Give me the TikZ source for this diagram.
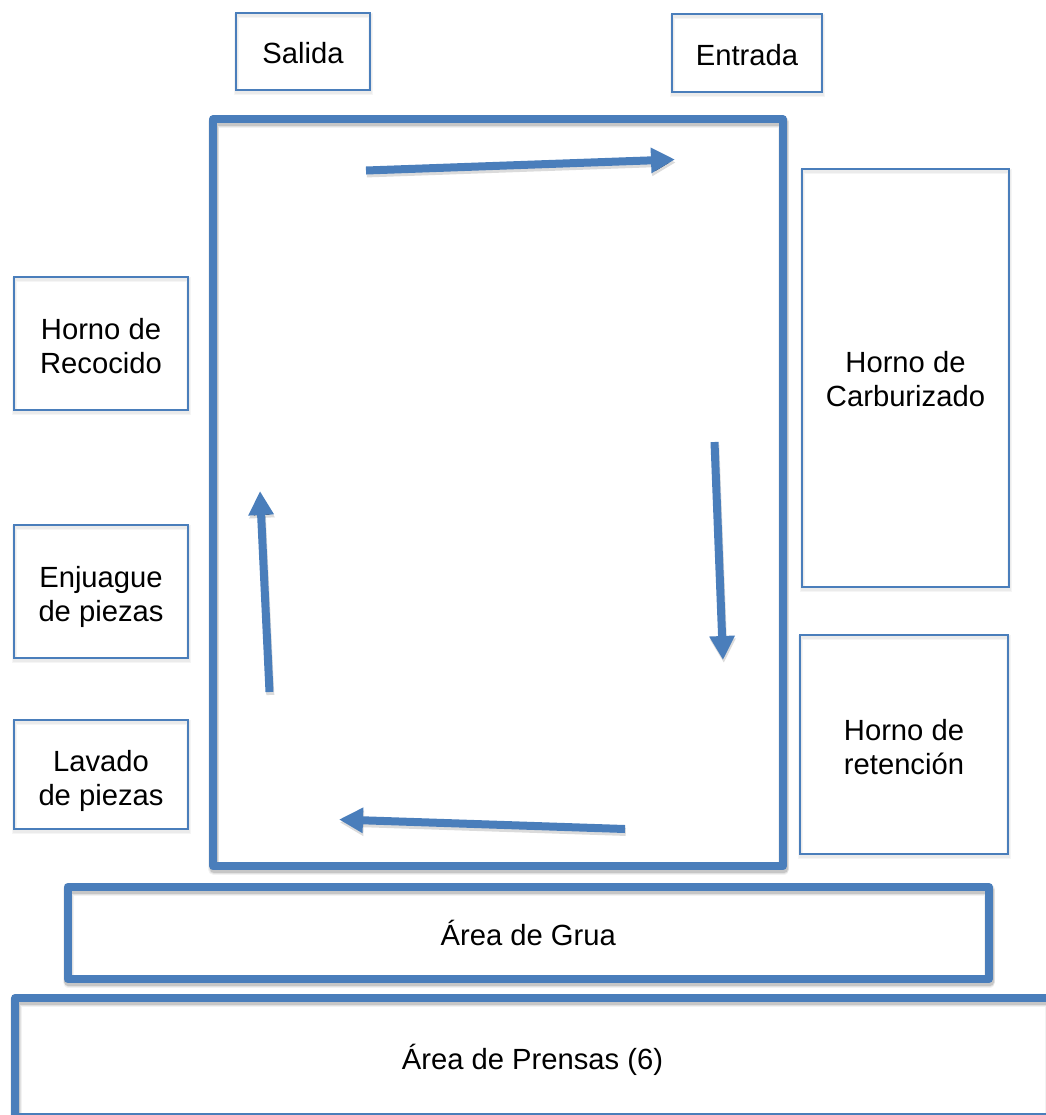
\documentclass[tikz,border=0pt]{standalone}
\usepackage{fontspec}
\setmainfont{Liberation Sans}
\usetikzlibrary{arrows.meta}
\definecolor{bluemain}{HTML}{4A7EBB}
\newcommand{\droptext}[2]{\raisebox{-#1}[\height][\depth]{\begin{tabular}{@{}c@{}}#2\end{tabular}}}
\tikzset{
  softshadow/.style={
    preaction={draw=black,draw opacity=.05,line width=#1+2.4pt,transform canvas={shift={(.6pt,-2.2pt)}}},
    preaction={draw=black,draw opacity=.07,line width=#1+1.2pt,transform canvas={shift={(.6pt,-2.2pt)}}},
    preaction={draw=black,draw opacity=.12,line width=#1,transform canvas={shift={(.6pt,-2.2pt)}}}},
  faintshadow/.style={
    preaction={draw=black,draw opacity=.04,line width=#1+2.4pt,transform canvas={shift={(.5pt,-1.8pt)}}},
    preaction={draw=black,draw opacity=.04,line width=#1+1.2pt,transform canvas={shift={(.5pt,-1.8pt)}}}},
  labelbox/.style={rectangle,inner sep=0pt,outer sep=0pt,align=center,text=black,
    font=\fontsize{21.9}{25.5}\selectfont},
  thinbox/.style={labelbox,draw=bluemain,line width=1.3pt,faintshadow=1.3pt},
  thickbox/.style={labelbox,draw=bluemain,line width=6pt,line join=round,softshadow=6pt},
  flow/.style={draw=bluemain,line width=6pt,-{Triangle[length=18pt,width=18pt]}},
  flowshadow/.style={draw=black,draw opacity=.14,line width=6pt,-{Triangle[length=18pt,width=18pt]}}
}
\begin{document}
\begin{tikzpicture}[x=.75pt,y=-.75pt]
\useasboundingbox (0,0) rectangle (1046,1115);
\clip (0,0) rectangle (1046,1115);
\node[thinbox,minimum width=100.5pt,minimum height=57.75pt] (salida) at (303,51.5) {\droptext{3.75pt}{Salida}};
\node[thinbox,minimum width=112.5pt,minimum height=58.5pt] (entrada) at (747,53) {\droptext{4.1pt}{Entrada}};
\node[thickbox,minimum width=427.5pt,minimum height=560.25pt] (planta) at (498,492.75) {};
\node[thinbox,minimum width=130.5pt,minimum height=99.75pt] (recocido) at (101,343.5) {\droptext{5pt}{Horno de\\Recocido}};
\node[thinbox,minimum width=130.5pt,minimum height=99.75pt] (enjuague) at (101,591.5) {\droptext{4.5pt}{Enjuague\\de piezas}};
\node[thinbox,minimum width=130.5pt,minimum height=81.75pt] (lavado) at (101,774.5) {\droptext{5.6pt}{Lavado\\de piezas}};
\node[thinbox,minimum width=155.25pt,minimum height=313.5pt] (carburizado) at (905.5,378) {\droptext{3.75pt}{Horno de\\Carburizado}};
\node[thinbox,minimum width=156pt,minimum height=164.25pt] (retencion) at (904,744.5) {\droptext{4.5pt}{Horno de\\retención}};
\node[thickbox,minimum width=691pt,minimum height=69pt] (grua) at (528.25,933) {\droptext{3.75pt}{Área de Grua}};
\node[thickbox,minimum width=776pt,minimum height=89.25pt] (prensas) at (532.5,1057.5) {\droptext{3.35pt}{Área de Prensas (6)}};
\coordinate (a1) at (366,170.5);
\coordinate (a2) at (675,159.5);
\coordinate (b1) at (714.5,442);
\coordinate (b2) at (723,660);
\coordinate (c1) at (625,829);
\coordinate (c2) at (339,819.5);
\coordinate (d1) at (269.5,692);
\coordinate (d2) at (260,491);
\foreach \s/\e in {a1/a2,b1/b2,c1/c2,d1/d2}{
  \draw[flowshadow,transform canvas={shift={(.6pt,-2.2pt)}}] (\s) -- (\e);
  \draw[flow] (\s) -- (\e);
}
\end{tikzpicture}
\end{document}
